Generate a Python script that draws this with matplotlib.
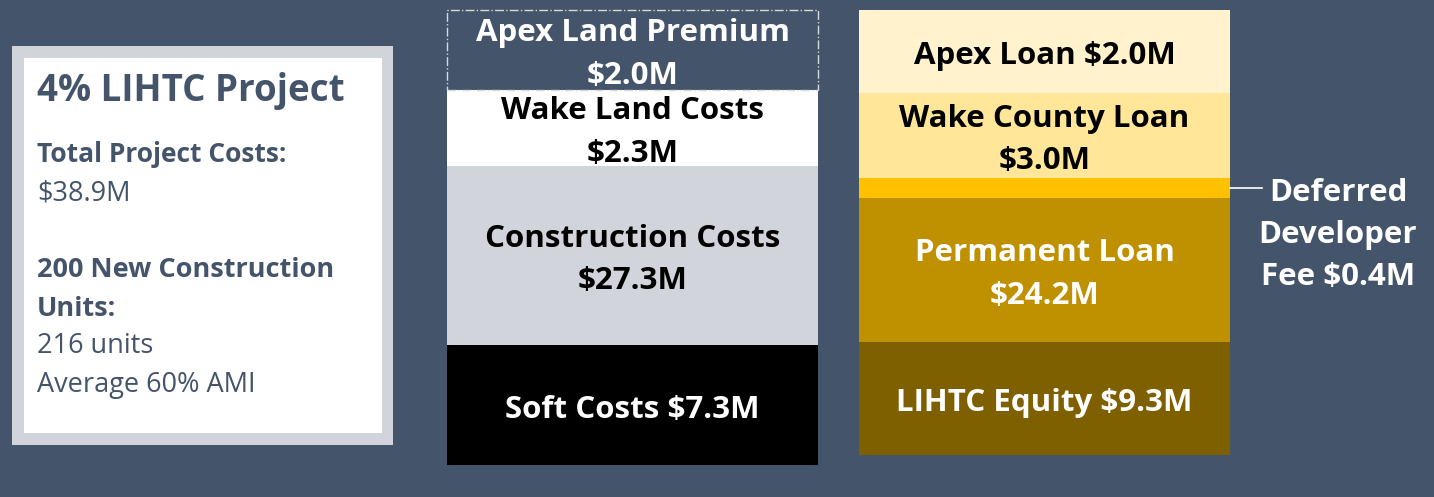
import matplotlib.pyplot as plt
from matplotlib.patches import Rectangle

plt.rcParams['font.family'] = ['Open Sans', 'DejaVu Sans']

BG = '#44546A'
GREY = '#D1D5DB'

# Sources and uses of funds ($M); drawn heights are read from the picture (not to scale)
uses_labels = ['Soft Costs $7.3M', 'Construction Costs\n$27.3M',
               'Wake Land Costs\n$2.3M', 'Apex Land Premium\n$2.0M']
uses_values = [7.3, 27.3, 2.3, 2.0]
uses_heights = [120, 179, 76, 80]
uses_colors = ['#000000', GREY, '#FFFFFF', BG]
uses_text = ['white', 'black', 'black', 'white']

src_labels = ['LIHTC Equity $9.3M', 'Permanent Loan\n$24.2M', '',
              'Wake County Loan\n$3.0M', 'Apex Loan $2.0M']
src_values = [9.3, 24.2, 0.4, 3.0, 2.0]
src_heights = [113, 144, 20, 85, 83]
src_colors = ['#7F6000', '#BF9000', '#FFC000', '#FFE699', '#FFF2CC']
src_text = ['white', 'white', 'white', 'black', 'black']

box_lines = [('4% LIHTC Project', 26.5, 'bold', 101),
             ('Total Project Costs:', 19, 'bold', 162),
             ('$38.9M', 19.5, 'normal', 200),
             ('200 New Construction', 19.5, 'bold', 277),
             ('Units:', 19.5, 'bold', 316),
             ('216 units', 19.5, 'normal', 353),
             ('Average 60% AMI', 19.5, 'normal', 392)]

W, H = 1434, 497
fig = plt.figure(figsize=(W / 100, H / 100), dpi=100, facecolor=BG)
ax = fig.add_axes([0, 0, 1, 1])
ax.set_xlim(0, W)
ax.set_ylim(0, H)
ax.axis('off')

# info box on the left
ax.add_patch(Rectangle((12, H - 445), 381, 399, facecolor=GREY, edgecolor='none'))
ax.add_patch(Rectangle((24, H - 433), 358, 375, facecolor='white', edgecolor='none'))
for txt, size, weight, base in box_lines:
    ax.text(37, H - base, txt, fontsize=size, fontweight=weight, color=BG, va='baseline')


def stacked(xc, base, heights, colors, labels, tcolors, width=371):
    bottom = base
    for i, h in enumerate(heights):
        ax.bar(xc, h, width=width, bottom=bottom, color=colors[i], edgecolor='none')
        if labels[i]:
            ax.text(xc, bottom + h / 2 - 4.5, labels[i], ha='center', va='center',
                    fontsize=22.5, fontweight='bold', color=tcolors[i], linespacing=1.53)
        bottom += h
    return bottom


stacked(632.5, 32, uses_heights, uses_colors, uses_labels, uses_text)
# dashed outline round the Apex land premium
top_base = 32 + sum(uses_heights[:3])
ax.bar(632.5, uses_heights[3], width=371, bottom=top_base, fill=False,
       edgecolor='#D9D9D9', linestyle='-.', linewidth=1)

stacked(1044.5, 42, src_heights, src_colors, src_labels, src_text)

# deferred developer fee callout
ax.plot([1230, 1262], [H - 188, H - 188], color='white', lw=1.2)
ax.text(1338, H - 235, 'Deferred\nDeveloper\nFee $0.4M', ha='center', va='center',
        fontsize=22.5, fontweight='bold', color='white', linespacing=1.53)

fig.savefig('out.png', dpi=100, facecolor=BG)
